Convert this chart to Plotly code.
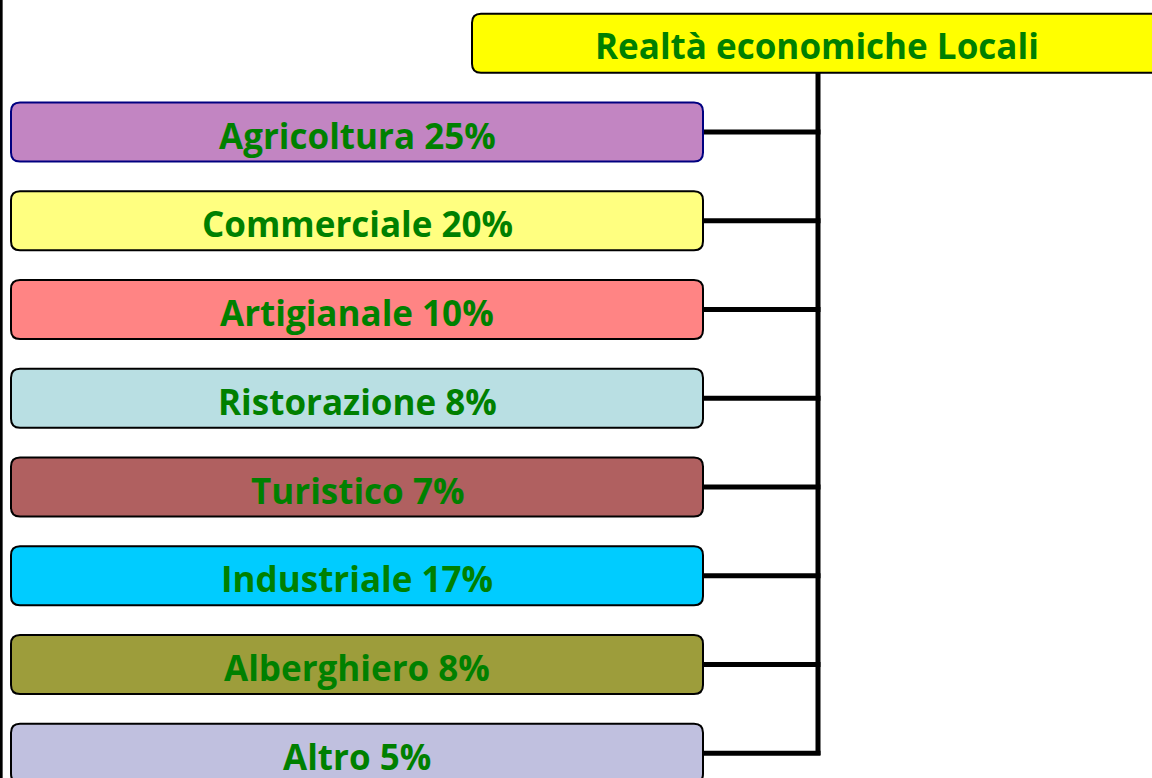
import plotly.graph_objects as go

title = "Realtà economiche Locali"
categories = ["Agricoltura", "Commerciale", "Artigianale", "Ristorazione",
              "Turistico", "Industriale", "Alberghiero", "Altro"]
percent = [25, 20, 10, 8, 7, 17, 8, 5]
fill_colors = ["#C285C2", "#FFFF80", "#FF8484", "#B9DFE3",
               "#B06060", "#00CCFF", "#9D9D3B", "#C0C0DF"]
edge_colors = ["#000080"] + ["#000000"] * 7

W, H = 1152, 778
ROW_PX = 88.75          # vertical pitch of one row, in pixels
FIRST_PX = 132          # pixel centre of row 0
HALF = 29.5 / ROW_PX    # half box height in row units
BOX_L, BOX_R = 11, 703
TITLE_L, TITLE_R = 472, 1164
TRUNK_X = 818
RADIUS = 9


def rounded(x0, x1, y0, y1, r=RADIUS):
    ry = r / ROW_PX
    return (f"M {x0 + r},{y0} L {x1 - r},{y0} Q {x1},{y0} {x1},{y0 + ry} "
            f"L {x1},{y1 - ry} Q {x1},{y1} {x1 - r},{y1} L {x0 + r},{y1} "
            f"Q {x0},{y1} {x0},{y1 - ry} L {x0},{y0 + ry} Q {x0},{y0} {x0 + r},{y0} Z")


fig = go.Figure()
shapes, annotations = [], []
font = dict(family="Open Sans", size=35, color="#008000")

# trunk + branches
shapes.append(dict(type="line", x0=TRUNK_X, x1=TRUNK_X, y0=-1 + HALF, y1=len(categories) - 1 + 0.02,
                   line=dict(color="black", width=5), layer="below"))
for i in range(len(categories)):
    shapes.append(dict(type="line", x0=BOX_R, x1=TRUNK_X + 2.5, y0=i, y1=i,
                       line=dict(color="black", width=5), layer="below"))

# title box
shapes.append(dict(type="path", path=rounded(TITLE_L, TITLE_R, -1 - HALF, -1 + HALF),
                   fillcolor="#FFFF00", line=dict(color="black", width=2)))
annotations.append(dict(x=(TITLE_L + TITLE_R) / 2 - 1, y=-1, text=f"<b>{title}</b>", yshift=-2,
                        showarrow=False, font=font, xanchor="center", yanchor="middle"))

for i, (cat, p) in enumerate(zip(categories, percent)):
    shapes.append(dict(type="path", path=rounded(BOX_L, BOX_R, i - HALF, i + HALF),
                       fillcolor=fill_colors[i], line=dict(color=edge_colors[i], width=2)))
    annotations.append(dict(x=(BOX_L + BOX_R) / 2, y=i, text=f"<b>{cat} {p}%</b>", yshift=-3,
                            showarrow=False, font=font, xanchor="center", yanchor="middle"))

# left frame edge
shapes.append(dict(type="line", xref="paper", yref="paper", x0=0.001, x1=0.001, y0=0, y1=1,
                   line=dict(color="black", width=3)))

y_top = -FIRST_PX / ROW_PX
y_bot = (H - FIRST_PX) / ROW_PX
fig.update_layout(
    width=W, height=H, margin=dict(l=0, r=0, t=0, b=0),
    paper_bgcolor="white", plot_bgcolor="white",
    shapes=shapes, annotations=annotations, showlegend=False,
    xaxis=dict(range=[0, W], visible=False, fixedrange=True),
    yaxis=dict(range=[y_bot, y_top], visible=False, fixedrange=True),
)
fig.write_html("out.html", config={"displayModeBar": False},
               post_script="document.body.style.margin='0';document.body.style.overflow='hidden';")
